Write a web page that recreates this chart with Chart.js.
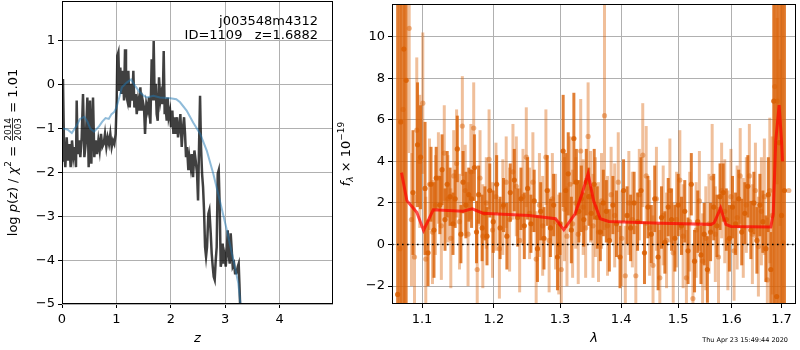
<!DOCTYPE html>
<html>
<head>
<meta charset="utf-8">
<script src="https://cdn.jsdelivr.net/npm/chart.js@4.4.0/dist/chart.umd.min.js"></script>
<style>
html, body { margin: 0; padding: 0; background: #fff; }
#wrap { position: relative; width: 800px; height: 350px; overflow: hidden; }
#pz { position: absolute; left: 0; top: 0; }
#spec { position: absolute; left: 335px; top: 0; }
</style>
</head>
<body>
<div id="wrap">
  <canvas id="pz" width="335" height="350"></canvas>
  <canvas id="spec" width="465" height="350"></canvas>
</div>
<script>
// Labels
const fieldName = 'j003548m4312';
const objId = 1109;
const zBest = '1.6882';
const stamp = 'Thu Apr 23 15:49:44 2020';

// Left panel: log p(z), raw (dark) and smoothed (blue)
const zDark = [0.006,0.018,0.037,0.061,0.086,0.110,0.135,0.159,0.184,0.208,0.233,0.257,0.270,0.288,0.312,0.337,0.362,0.386,0.411,0.435,
  0.466,0.490,0.515,0.539,0.570,0.594,0.619,0.643,0.668,0.692,0.717,0.741,0.766,0.790,0.815,0.839,0.864,0.888,0.913,0.937,
  0.962,0.986,1.005,1.017,1.036,1.054,1.072,1.091,1.115,1.140,1.158,1.176,1.201,1.219,1.244,1.268,1.293,1.311,1.330,1.354,
  1.373,1.397,1.422,1.440,1.464,1.483,1.507,1.526,1.550,1.575,1.599,1.624,1.648,1.667,1.685,1.703,1.722,1.740,1.759,1.783,
  1.808,1.826,1.850,1.869,1.887,1.906,1.924,1.942,1.961,1.985,2.004,2.028,2.047,2.071,2.089,2.114,2.132,2.157,2.175,2.200,
  2.218,2.243,2.261,2.279,2.298,2.322,2.341,2.365,2.384,2.408,2.433,2.457,2.482,2.500,2.518,2.537,2.555,2.574,2.592,2.610,
  2.629,2.647,2.665,2.690,2.708,2.733,2.751,2.770,2.788,2.806,2.825,2.843,2.862,2.880,2.898,2.917,2.935,2.953,2.972,2.990,
  3.009,3.027,3.045,3.064,3.082,3.100,3.119,3.137,3.162,3.180,3.205,3.229,3.247,3.260,3.272,3.284,3.30,3.70,3.73,3.76,4.98];
const logpDark = [-1.73,0.13,-1.42,-1.88,-1.20,-1.73,-1.35,-1.88,-1.27,-1.65,-1.42,-1.88,-0.36,-1.58,-1.27,-1.65,-1.20,-0.21,-1.65,-1.35,
  -0.29,-1.88,-0.36,-1.80,-0.29,-1.65,-1.27,-1.58,-1.27,-1.50,-1.12,-1.42,-1.35,-1.12,-1.42,-1.20,-1.35,-1.12,-1.42,-1.27,
  -1.35,-1.12,-0.36,0.66,0.74,-0.14,0.39,-0.21,0.32,-0.36,0.81,-0.21,-0.36,0.32,-0.52,0.02,-0.36,0.32,-0.52,-0.21,
  -0.67,-0.36,-0.59,-0.06,-0.59,-0.36,-0.52,-1.12,-0.44,-0.59,-0.29,-0.89,0.58,-0.36,1.00,-0.36,0.02,-0.67,-0.82,0.17,
  -0.36,-0.21,-0.44,0.77,-0.67,-0.52,-0.82,-0.29,-0.74,-0.59,-0.97,-0.59,-1.12,-0.74,-1.12,-0.74,-1.20,-0.97,-0.67,-1.42,
  -1.05,-0.74,-1.12,-1.65,-1.42,-1.95,-1.65,-1.88,-1.58,-2.11,-1.50,-1.73,-2.03,-2.64,-1.42,-0.25,-1.42,-2.03,-2.33,-2.86,
  -3.70,-3.92,-3.70,-2.94,-2.86,-3.39,-3.85,-4.15,-4.38,-4.45,-4.00,-3.70,-2.03,-1.95,-2.79,-4.15,-4.00,-3.62,-4.08,-3.92,
  -4.15,-3.85,-3.32,-3.85,-4.08,-3.39,-3.77,-4.15,-4.08,-4.30,-4.30,-4.15,-4.08,-4.53,-4.98,-5.36,-5.6,-5.6,-4.99,-5.6,-5.6];
const zSmooth = [0.0,0.10,0.18,0.26,0.33,0.41,0.47,0.52,0.59,0.68,0.74,0.80,0.86,0.91,0.96,1.00,1.05,1.10,1.19,1.27,
  1.34,1.43,1.50,1.56,1.68,1.80,1.99,2.10,2.17,2.29,2.41,2.54,2.66,2.78,2.90,3.03,3.15,3.24,3.28,3.32];
const logpSmooth = [-1.0,-1.02,-1.10,-0.95,-0.78,-0.73,-0.85,-1.0,-1.07,-0.95,-0.84,-0.76,-0.78,-0.67,-0.62,-0.52,-0.30,-0.06,0.05,0.12,
  -0.02,-0.17,-0.25,-0.29,-0.25,-0.29,-0.31,-0.33,-0.40,-0.59,-0.86,-1.12,-1.5,-2.03,-2.64,-3.32,-4.0,-4.53,-5.0,-5.4];
const zTicks = [0, 1, 2, 3, 4];
const logpTicks = [-5, -4, -3, -2, -1, 0, 1];

// Right panel: spectrum A (dark), spectrum B (light), model (red)
const waveA = [1.068,1.072,1.076,1.079,1.088,1.094,1.098,1.104,1.108,1.112,1.116,1.119,1.124,1.127,1.131,1.134,1.138,1.142,1.145,1.148,
  1.153,1.156,1.160,1.164,1.168,1.172,1.175,1.178,1.183,1.187,1.190,1.194,1.199,1.204,1.209,1.214,1.219,1.224,1.230,1.235,
  1.240,1.245,1.250,1.255,1.260,1.265,1.270,1.275,1.280,1.285,1.290,1.296,1.300,1.305,1.309,1.313,1.318,1.322,1.326,1.330,
  1.334,1.338,1.342,1.346,1.350,1.355,1.360,1.365,1.370,1.375,1.380,1.386,1.392,1.398,1.404,1.410,1.416,1.422,1.428,1.434,
  1.440,1.446,1.452,1.458,1.464,1.470,1.476,1.482,1.488,1.494,1.500,1.506,1.512,1.518,1.524,1.530,1.536,1.542,1.548,1.554,
  1.560,1.566,1.572,1.578,1.584,1.590,1.596,1.602,1.608,1.614,1.620,1.626,1.632,1.638,1.644,1.650,1.656,1.662,1.668,1.673,
  1.678,1.684,1.690,1.695,1.700,1.706];
const fluxA = [-2.4,5.9,9.4,7.9,2.5,4.8,4.2,2.7,-0.4,2.9,0.7,3.2,1.9,3.6,1.2,2.9,2.3,1.0,2.2,4.6,
  0.5,3.0,1.9,2.4,2.2,3.7,0.6,2.4,0.8,1.5,0.4,2.6,1.1,2.9,0.8,1.9,0.4,2.5,3.1,1.3,
  2.2,0.9,2.7,1.0,2.1,-0.2,1.6,0.3,2.6,0.8,1.9,-0.6,1.0,4.5,2.6,3.4,0.7,5.1,3.0,1.6,
  2.2,1.2,3.0,2.3,1.5,2.9,1.3,0.6,2.0,1.6,0.2,1.9,1.0,-0.6,2.6,1.4,0.8,2.0,1.1,2.6,
  -0.4,1.8,0.5,2.2,-0.6,1.3,0.1,1.8,1.2,0.3,1.9,0.9,1.6,-0.3,2.9,-0.8,1.1,-0.5,0.5,-1.2,
  0.6,1.8,0.9,2.3,2.5,1.2,0.3,1.8,1.0,2.2,0.6,1.5,2.8,0.7,2.0,0.2,1.9,1.1,-0.2,2.4,
  -1.2,6.9,-2.5,4.9,1.4,2.6];
const errA = [20,20,20,20,3.0,3.0,2.5,3.2,1.6,1.8,2.3,1.5,1.4,1.7,1.5,1.6,1.4,1.5,1.4,1.6,
  1.4,1.5,1.6,1.3,1.4,1.6,1.5,1.4,1.6,1.3,1.4,1.3,1.5,1.4,1.5,1.3,1.6,1.4,1.5,1.4,
  1.5,1.6,1.5,1.4,1.5,1.6,1.4,1.5,1.7,1.4,1.5,1.6,1.5,2.7,1.8,2.0,1.6,2.2,1.6,1.5,
  1.6,1.3,1.6,1.4,1.3,1.7,1.5,1.4,1.6,1.5,1.5,1.4,1.6,1.5,1.5,1.4,1.6,1.5,1.4,1.6,
  1.5,1.5,1.4,1.6,1.6,1.5,1.5,1.4,1.5,1.6,1.5,1.4,1.5,1.6,1.5,1.5,1.5,1.4,1.5,1.6,
  1.4,1.6,1.5,1.6,1.4,1.5,1.6,1.5,1.5,1.4,1.6,1.5,1.5,1.4,1.5,1.6,1.5,1.5,1.6,1.8,
  1.8,20,20,20,20,20];
const waveB = [1.071,1.075,1.083,1.086,1.090,1.093,1.097,1.101,1.105,1.110,1.114,1.118,1.122,1.126,1.130,1.135,1.139,1.143,1.147,1.151,
  1.155,1.159,1.163,1.167,1.171,1.176,1.180,1.184,1.189,1.193,1.198,1.203,1.208,1.213,1.218,1.223,1.228,1.233,1.238,1.243,
  1.248,1.253,1.258,1.263,1.268,1.273,1.278,1.283,1.288,1.293,1.298,1.302,1.307,1.311,1.316,1.320,1.325,1.329,1.333,1.337,
  1.341,1.345,1.349,1.353,1.357,1.362,1.367,1.372,1.377,1.383,1.389,1.395,1.401,1.407,1.413,1.419,1.425,1.431,1.437,1.443,
  1.449,1.455,1.461,1.467,1.473,1.479,1.485,1.491,1.497,1.503,1.509,1.515,1.521,1.527,1.533,1.539,1.545,1.551,1.557,1.563,
  1.569,1.575,1.581,1.587,1.593,1.599,1.605,1.611,1.617,1.623,1.629,1.635,1.641,1.647,1.653,1.659,1.665,1.671,1.676,1.681,
  1.686,1.691,1.697,1.703,1.715];
const fluxB = [-0.2,6.5,10.4,1.2,-0.6,5.5,4.0,6.8,-0.7,2.9,0.6,1.9,3.2,0.9,4.4,2.2,0.3,3.3,3.9,1.1,
  5.7,2.6,0.5,3.5,5.6,-1.2,3.2,0.4,2.0,4.1,0.7,2.3,-0.2,1.8,3.0,1.2,3.5,2.8,0.2,2.3,
  4.2,1.5,3.0,-0.7,1.9,0.9,4.2,0.2,2.2,1.1,0.0,-1.2,1.7,0.4,2.9,1.0,2.0,0.5,4.5,1.8,
  0.8,5.2,2.3,0.9,1.8,0.6,2.1,6.2,0.9,2.4,1.4,3.0,0.3,-1.5,2.0,1.2,-1.5,2.4,4.3,3.3,
  0.8,-1.0,2.2,-1.6,1.4,0.2,2.6,-0.4,1.2,3.1,0.4,-1.6,1.1,-2.6,0.7,2.1,-0.8,0.3,1.0,3.2,
  0.5,-0.6,2.6,1.6,0.2,2.3,-0.3,1.3,3.3,0.8,1.9,3.3,0.5,2.6,-0.1,1.6,2.3,-1.7,2.6,1.4,
  7.6,6.9,4.9,0.1,2.6];
const errB = [20,20,6,3.2,3.0,3.5,3.2,3.4,3.0,2.2,2.5,2.4,2.2,2.6,2.3,2.1,2.4,2.2,2.6,2.3,
  2.4,2.2,2.5,2.3,2.2,2.4,2.3,2.5,2.2,2.4,2.3,2.6,2.4,2.3,2.2,2.5,2.3,2.4,2.5,2.3,
  2.4,2.2,2.4,2.3,2.5,2.4,2.3,2.5,2.2,2.3,2.4,2.3,2.5,2.4,2.3,2.6,2.2,2.4,2.5,2.3,
  2.4,2.6,2.2,2.5,2.4,2.4,2.3,5.5,2.4,2.3,2.5,2.4,2.3,2.4,2.5,2.3,2.4,2.2,2.5,2.4,
  2.3,2.4,2.5,2.3,2.4,2.3,2.5,2.4,2.3,2.4,2.5,2.3,2.4,2.6,2.3,2.4,2.3,2.5,2.4,2.6,
  2.3,2.4,2.3,2.5,2.4,2.3,2.4,2.5,2.3,2.4,2.3,2.5,2.4,2.3,2.4,2.6,2.8,3.0,3.5,3.8,
  20,4,4,20,0];
const modelWave = [1.073,1.080,1.093,1.102,1.115,1.156,1.169,1.184,1.252,1.293,1.306,1.324,1.335,1.345,1.354,1.365,1.379,1.469,
  1.561,1.567,1.579,1.589,1.599,1.678,1.683,1.688,1.695,1.700,1.702];
const modelFlux = [3.46,2.11,1.55,0.68,1.67,1.60,1.72,1.51,1.40,1.24,0.71,1.48,2.43,3.41,2.10,1.24,1.11,1.03,
  0.97,1.05,1.76,0.97,0.87,0.84,1.48,4.97,6.71,4.97,4.0];
const lamMin = 1.0607, lamMax = 1.730;
const lamTicks = [1.1, 1.2, 1.3, 1.4, 1.5, 1.6, 1.7];
const fluxTicks = [-2, 0, 2, 4, 6, 8, 10];

const FONT = '"DejaVu Sans", sans-serif';
Chart.defaults.font.family = FONT;
Chart.defaults.font.size = 13;
Chart.defaults.color = '#000';

const minus = v => (v < 0 ? '\u2212' : '') + Math.abs(v);
const xy = (xs, ys) => xs.map((x, i) => ({ x: x, y: ys[i] }));
const gridOpts = { color: '#b0b0b0', lineWidth: 1, tickColor: '#000', tickLength: 4, drawTicks: true, offset: false };

// fixed axis boxes, no extra room for the end labels
const fixHeight = h => s => { s.height = h; s.paddingLeft = 0; s.paddingRight = 0; };
const fixWidth = w => s => { s.width = w; s.paddingTop = 0; s.paddingBottom = 0; };

// Black box round the plot area
const frame = {
    id: 'frame',
    afterDraw(chart) {
        const { ctx, chartArea: a } = chart;
        ctx.save();
        ctx.strokeStyle = '#000';
        ctx.lineWidth = 1;
        ctx.strokeRect(Math.round(a.left) + 0.5, Math.round(a.top) + 0.5, Math.round(a.width) - 1, Math.round(a.height) - 1);
        ctx.restore();
    }
};

// Vertical axis label with italic, sub/superscripts and a fraction
function richTitle(id, x, parts) {
    return {
        id: id,
        afterDraw(chart) {
            const { ctx, chartArea: a } = chart;
            const fontOf = p => (p.it ? 'italic ' : '') + (p.size || 13) + 'px ' + FONT;
            ctx.save();
            let total = 0;
            const widths = parts.map(p => {
                let w;
                if (p.num) {
                    ctx.font = fontOf({ size: 9 });
                    w = Math.max(ctx.measureText(p.num).width, ctx.measureText(p.den).width) + 2;
                } else {
                    ctx.font = fontOf(p);
                    w = ctx.measureText(p.t).width;
                }
                total += w;
                return w;
            });
            ctx.translate(x, (a.top + a.bottom) / 2);
            ctx.rotate(-Math.PI / 2);
            ctx.fillStyle = '#000';
            ctx.strokeStyle = '#000';
            ctx.textBaseline = 'alphabetic';
            let cx = -total / 2;
            parts.forEach((p, i) => {
                const w = widths[i];
                if (p.num) {
                    ctx.font = fontOf({ size: 9 });
                    ctx.textAlign = 'center';
                    ctx.fillText(p.num, cx + w / 2, -1.3);
                    ctx.fillText(p.den, cx + w / 2, 8.7);
                    ctx.lineWidth = 0.8;
                    ctx.beginPath();
                    ctx.moveTo(cx + 1, 0.5);
                    ctx.lineTo(cx + w - 1, 0.5);
                    ctx.stroke();
                } else {
                    ctx.font = fontOf(p);
                    ctx.textAlign = 'left';
                    ctx.fillText(p.t, cx, 4.5 + (p.dy || 0));
                }
                cx += w;
            });
            ctx.restore();
        }
    };
}

const idLabel = {
    id: 'idLabel',
    afterDraw(chart) {
        const { ctx, chartArea: a } = chart;
        ctx.save();
        ctx.font = '13px ' + FONT;
        ctx.fillStyle = '#000';
        ctx.textAlign = 'right';
        ctx.textBaseline = 'alphabetic';
        ctx.fillText(fieldName, a.right - 15, a.top + 24);
        ctx.fillText('ID=' + objId + '   z=' + zBest, a.right - 15, a.top + 38);
        ctx.restore();
    }
};

const stampLabel = {
    id: 'stampLabel',
    afterDraw(chart) {
        const { ctx } = chart;
        ctx.save();
        ctx.font = '6.5px ' + FONT;
        ctx.fillStyle = '#000';
        ctx.textAlign = 'right';
        ctx.fillText(stamp, 453, 342);
        ctx.restore();
    }
};

// p(z) panel
new Chart(document.getElementById('pz'), {
    type: 'scatter',
    data: {
        datasets: [
            {
                data: xy(zSmooth, logpSmooth),
                showLine: true, pointRadius: 0,
                borderColor: 'rgba(31,119,180,0.5)', borderWidth: 2,
                order: 0, clip: 0
            },
            {
                data: xy(zDark, logpDark),
                showLine: true, pointRadius: 0,
                borderColor: 'rgba(0,0,0,0.75)', borderWidth: 2.5,
                order: 1, clip: 0
            }
        ]
    },
    options: {
        responsive: false,
        animation: false,
        events: [],
        layout: { padding: { top: 1, right: 2, left: 0, bottom: 0 } },
        plugins: { legend: { display: false }, tooltip: { enabled: false } },
        scales: {
            x: {
                type: 'linear', min: 0, max: 4.98, offset: false,
                afterBuildTicks: s => { s.ticks = zTicks.map(v => ({ value: v })); },
                afterFit: fixHeight(46),
                grid: gridOpts,
                border: { display: false },
                ticks: { padding: 4, maxRotation: 0, autoSkip: false, font: { size: 13 }, callback: v => minus(v) },
                title: { display: true, text: 'z', font: { size: 13, style: 'italic' }, padding: { top: 0, bottom: 4 } }
            },
            y: {
                type: 'linear', min: -5, max: 1.91,
                afterBuildTicks: s => { s.ticks = logpTicks.map(v => ({ value: v })); },
                afterFit: fixWidth(62),
                grid: gridOpts,
                border: { display: false },
                ticks: { padding: 3, autoSkip: false, font: { size: 13 }, callback: v => minus(v) }
            }
        }
    },
    plugins: [frame, idLabel, richTitle('pzTitle', 12, [
        { t: 'log ' }, { t: 'p', it: 1 }, { t: '(' }, { t: 'z', it: 1 }, { t: ') / ' },
        { t: '\u03c7', it: 1 }, { t: '2', size: 9, dy: -6 }, { t: ' = ' },
        { num: '2014', den: '2003' }, { t: ' = 1.01' }
    ])]
});

// Spectrum panel
const barA = waveA.map((w, i) => ({ x: w, y: [fluxA[i] - errA[i], fluxA[i] + errA[i]] }));
const barB = waveB.map((w, i) => ({ x: w, y: [fluxB[i] - errB[i], fluxB[i] + errB[i]] }));
const barStyle = { type: 'bar', grouped: false, borderWidth: 0, barPercentage: 10, categoryPercentage: 1, maxBarThickness: 3, clip: 0 };

new Chart(document.getElementById('spec'), {
    type: 'scatter',
    data: {
        datasets: [
            {
                type: 'line', data: xy(modelWave, modelFlux),
                borderColor: 'rgba(255,0,0,0.7)', borderWidth: 3, pointRadius: 0,
                order: 0, clip: 0
            },
            {
                type: 'line', data: [{ x: lamMin, y: 0 }, { x: lamMax, y: 0 }],
                borderColor: '#000', borderWidth: 1.6, borderDash: [1.6, 3.4], pointRadius: 0,
                order: 1, clip: 0
            },
            {
                data: xy(waveA, fluxA), pointRadius: 2.6, borderWidth: 0,
                backgroundColor: 'rgba(217,95,2,0.85)', order: 2, clip: 0
            },
            Object.assign({ data: barA, backgroundColor: 'rgba(217,95,2,0.8)', order: 3 }, barStyle),
            {
                data: xy(waveB, fluxB), pointRadius: 2.6, borderWidth: 0,
                backgroundColor: 'rgba(217,95,2,0.45)', order: 4, clip: 0
            },
            Object.assign({ data: barB, backgroundColor: 'rgba(217,95,2,0.4)', order: 5 }, barStyle)
        ]
    },
    options: {
        responsive: false,
        animation: false,
        events: [],
        layout: { padding: { top: 1, right: 1, left: 0, bottom: 0 } },
        plugins: { legend: { display: false }, tooltip: { enabled: false } },
        scales: {
            x: {
                type: 'logarithmic', min: lamMin, max: lamMax, offset: false,
                afterBuildTicks: s => { s.ticks = lamTicks.map(v => ({ value: v })); },
                afterFit: fixHeight(46),
                grid: gridOpts,
                border: { display: false },
                ticks: { padding: 4, maxRotation: 0, autoSkip: false, font: { size: 13 }, callback: v => Number(v).toFixed(1) },
                title: { display: true, text: '\u03bb', font: { size: 13, style: 'italic' }, padding: { top: 0, bottom: 4 } }
            },
            y: {
                type: 'linear', min: -2.86, max: 11.57, beginAtZero: false,
                afterBuildTicks: s => { s.ticks = fluxTicks.map(v => ({ value: v })); },
                afterFit: fixWidth(57),
                grid: gridOpts,
                border: { display: false },
                ticks: { padding: 3, autoSkip: false, font: { size: 13 }, callback: v => minus(v) }
            }
        }
    },
    plugins: [frame, stampLabel, richTitle('fluxTitle', 10, [
        { t: 'f', it: 1 }, { t: '\u03bb', it: 1, size: 9, dy: 3 }, { t: ' \u00d7 10' }, { t: '\u221219', size: 9, dy: -6 }
    ])]
});
</script>
</body>
</html>
